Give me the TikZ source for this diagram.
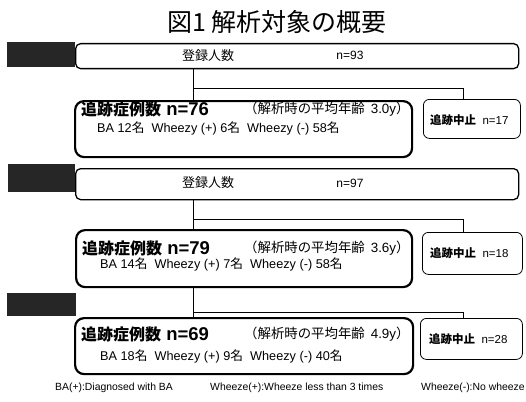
\documentclass[tikz,border=0pt]{standalone}
\usepackage{fontspec}
\setmainfont{Liberation Sans}
\newfontfamily\jp{Noto Sans CJK JP}
\newcommand{\bigjp}{\jp\bfseries\fontsize{16}{16}\selectfont}
\begin{document}
\begin{tikzpicture}[x=1pt,y=-1pt,
  blk/.style={fill=black!85,draw=none,anchor=north west,inner sep=0pt},
  regbox/.style={draw,line width=1.3pt,rounded corners=5pt,anchor=north west,inner sep=0pt},
  trbox/.style={draw,line width=2.2pt,rounded corners=9pt,anchor=north west,inner sep=0pt},
  stbox/.style={draw,line width=0.8pt,rounded corners=6pt,anchor=north west,inner sep=0pt},
  conn/.style={line width=0.9pt},
  txt/.style={inner sep=0pt,anchor=west},
  big/.style={txt,font=\bfseries\fontsize{18.5}{18.5}\selectfont},
  mid/.style={txt,font=\fontsize{12.7}{12.7}\selectfont},
  age/.style={txt,font=\jp\fontsize{13.4}{13.4}\selectfont},
  sml/.style={txt,font=\fontsize{11.5}{11.5}\selectfont},
  reg/.style={inner sep=0pt,font=\fontsize{12}{12}\selectfont},
  regjp/.style={inner sep=0pt,font=\jp\fontsize{13}{13}\selectfont},
  foot/.style={txt,font=\fontsize{10.4}{10.4}\selectfont}]
\useasboundingbox (0,0) rectangle (526,401);

\node[inner sep=0pt,font=\jp\fontsize{25}{25}\selectfont] (title) at (277,22) {図1 解析対象の概要};

% section 1
\node[blk,minimum width=68pt,minimum height=25pt] (blk1) at (7,42) {};
\node[regbox,minimum width=443pt,minimum height=25pt] (reg1) at (75,43) {};
\node[regjp] (reg1a) at (208,55.5) {登録人数};
\node[reg] (reg1b) at (350,55.5) {n=93};
\node[trbox,minimum width=337pt,minimum height=56pt] (tr1) at (74,100) {};
\node[big] (tr1a) at (81,109) {{\bigjp 追跡症例数} n=76};
\node[age] (tr1b) at (244,109) {（解析時の平均年齢\ \ {\rmfamily 3.0y}）};
\node[mid] (tr1c) at (97,128) {BA 12{\jp 名}\ \ Wheezy (+) 6{\jp 名}\ \ Wheezy (-) 58{\jp 名}};
\node[stbox,minimum width=97pt,minimum height=39pt] (st1) at (423,99) {};
\node[sml] (st1a) at (430,120) {{\jp\bfseries 追跡中止}\ \ n=17};
\coordinate (c1) at (193,88);
\coordinate (d1) at (463,88);
\draw[conn] (reg1.south -| c1) -- (tr1.north -| c1);
\draw[conn] (c1) -- (d1) -- (st1.north -| d1);

% section 2
\node[blk,minimum width=67pt,minimum height=28pt] (blk2) at (8,164) {};
\node[regbox,minimum width=443pt,minimum height=31pt] (reg2) at (75,168) {};
\node[regjp] (reg2a) at (208,183) {登録人数};
\node[reg] (reg2b) at (350,183) {n=97};
\node[trbox,minimum width=336pt,minimum height=57pt] (tr2) at (75,229) {};
\node[big] (tr2a) at (82,248) {{\bigjp 追跡症例数} n=79};
\node[age] (tr2b) at (244,248) {（解析時の平均年齢\ \ {\rmfamily 3.6y}）};
\node[mid] (tr2c) at (100,264) {BA 14{\jp 名}\ \ Wheezy (+) 7{\jp 名}\ \ Wheezy (-) 58{\jp 名}};
\node[stbox,minimum width=100pt,minimum height=42pt] (st2) at (422,232) {};
\node[sml] (st2a) at (430,253) {{\jp\bfseries 追跡中止}\ \ n=18};
\coordinate (c2) at (193,219);
\coordinate (d2) at (463,219);
\draw[conn] (reg2.south -| c2) -- (tr2.north -| c2);
\draw[conn] (c2) -- (d2) -- (st2.north -| d2);

% section 3
\node[blk,minimum width=69pt,minimum height=23pt] (blk3) at (7,293) {};
\node[trbox,minimum width=338pt,minimum height=56pt] (tr3) at (74,317) {};
\node[big] (tr3a) at (81,334) {{\bigjp 追跡症例数} n=69};
\node[age] (tr3b) at (244,334) {（解析時の平均年齢\ \ {\rmfamily 4.9y}）};
\node[mid] (tr3c) at (100,356) {BA 18{\jp 名}\ \ Wheezy (+) 9{\jp 名}\ \ Wheezy (-) 40{\jp 名}};
\node[stbox,minimum width=102pt,minimum height=41pt] (st3) at (420,318) {};
\node[sml] (st3a) at (429,339) {{\jp\bfseries 追跡中止}\ \ n=28};
\coordinate (c3) at (193,312);
\coordinate (d3) at (463,312);
\draw[conn] (tr2.south -| c3) -- (tr3.north -| c3);
\draw[conn] (c3) -- (d3) -- (st3.north -| d3);

% footnotes
\node[foot] (f1) at (55,388) {BA(+):Diagnosed with BA};
\node[foot] (f2) at (210,388) {Wheeze(+):Wheeze less than 3 times};
\node[foot] (f3) at (421,388) {Wheeze(-):No wheeze};
\end{tikzpicture}
\end{document}
